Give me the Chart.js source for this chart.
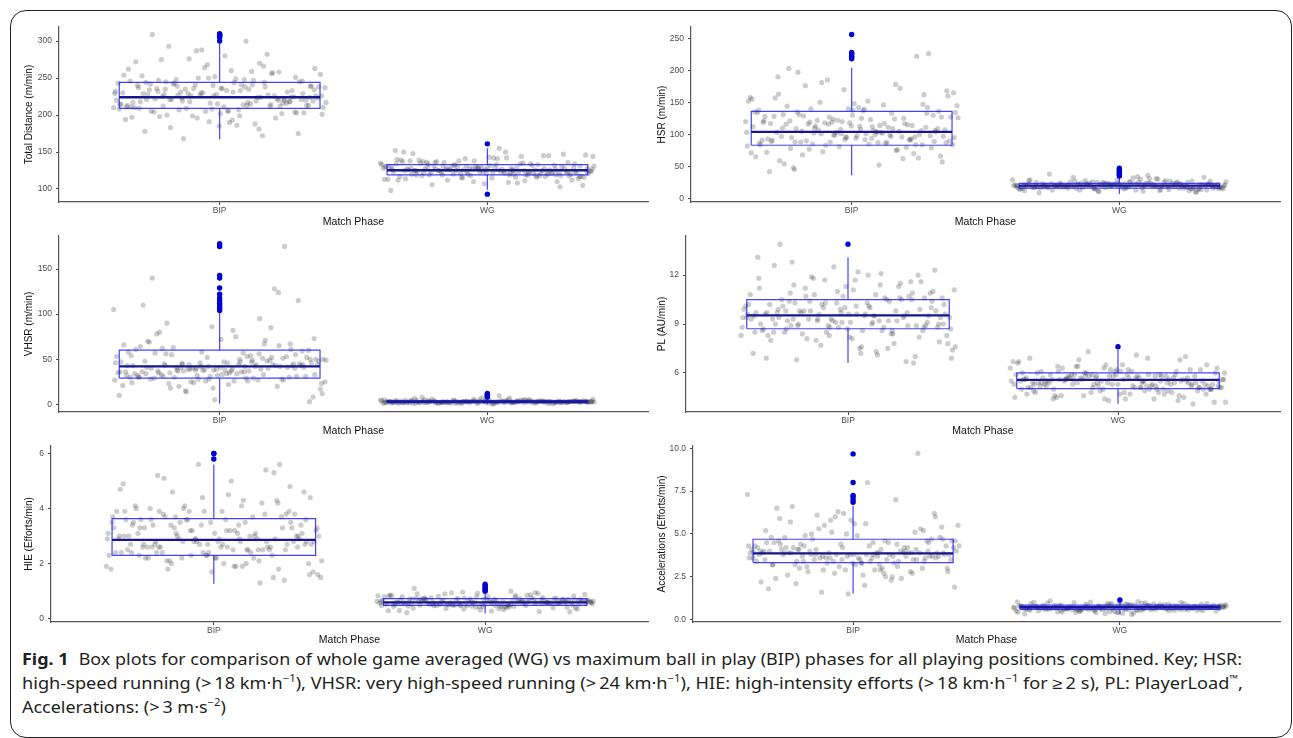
<!DOCTYPE html>
<html>
<head>
<meta charset="utf-8">
<script src="https://cdn.jsdelivr.net/npm/chart.js@4.4.0/dist/chart.umd.min.js"></script>
<style>
  body { margin: 0; background: #fff; width: 1293px; height: 738px; overflow: hidden; position: relative; }
  .frame { position: absolute; left: 10px; top: 10px; width: 1282px; height: 728px; border: 1.3px solid #222; border-radius: 16px; box-sizing: border-box; }
  canvas { position: absolute; }
  .cap { position: absolute; left: 22px; font-family: "Noto Sans", sans-serif; font-size: 16px; line-height: 24px; color: #231f20; white-space: nowrap; transform-origin: 0 0; }
  .cap sup { font-size: 10px; line-height: 0; vertical-align: 0; position: relative; top: -7px; }
</style>
</head>
<body>
<div class="frame"></div>
<canvas id="c0" width="635" height="211" style="left:17px;top:17px"></canvas>
<canvas id="c1" width="634" height="211" style="left:650px;top:17px"></canvas>
<canvas id="c2" width="635" height="211" style="left:17px;top:226px"></canvas>
<canvas id="c3" width="634" height="211" style="left:650px;top:226px"></canvas>
<canvas id="c4" width="635" height="210" style="left:17px;top:436px"></canvas>
<canvas id="c5" width="634" height="210" style="left:650px;top:436px"></canvas>

<div class="cap" id="l1" style="top:647px"><b>Fig. 1</b><span style="display:inline-block;width:9px"></span>Box plots for comparison of whole game averaged (WG) vs maximum ball in play (BIP) phases for all playing positions combined. Key; HSR:</div>
<div class="cap" id="l2" style="top:671px">high-speed running (&gt;&#8201;18 km·h<sup>−1</sup>), VHSR: very high-speed running (&gt;&#8201;24 km·h<sup>−1</sup>), HIE: high-intensity efforts (&gt;&#8201;18 km·h<sup>−1</sup> for ≥&#8201;2 s), PL: PlayerLoad<sup>™</sup>,</div>
<div class="cap" id="l3" style="top:695px">Accelerations: (&gt;&#8201;3 m·s<sup>−2</sup>)</div>

<script>
const phases = ["BIP", "WG"];
const metrics = ["Total Distance (m/min)", "HSR (m/min)", "VHSR (m/min)", "PL (AU/min)", "HIE (Efforts/min)", "Accelerations (Efforts/min)"];

const tdBip = [238, 212, 251, 226, 197, 244, 219, 263, 231, 205, 222, 288, 215, 241, 183, 229, 236, 209, 256, 218, 201, 233, 247, 224, 191, 213, 270, 227, 239, 206, 221, 258, 196, 232, 217, 245, 175, 228, 210, 282, 235, 223, 249, 204, 216, 264, 230, 188, 242, 220, 211, 253, 226, 199, 237, 214, 275, 225, 208, 246, 172, 231, 219, 260, 234, 202, 227, 243, 215, 293, 221, 185, 240, 212, 229, 255, 207, 236, 218, 268, 194, 224, 248, 213, 233, 178, 222, 241, 210, 300, 228, 203, 252, 217, 238, 168, 226, 244, 309, 220,
  230, 214, 247, 221, 203, 236, 218, 257, 226, 210, 241, 198, 233, 216, 262, 224, 207, 239, 190, 228, 212, 250, 220, 235, 200, 245, 215, 272, 227, 209, 238, 186, 222, 231, 205, 254, 219, 243, 213, 280, 229, 196, 236, 217, 248, 225, 204, 240, 211, 266, 223, 234, 193, 242, 216, 230, 208, 259, 221, 246, 202, 237, 214, 276, 226, 199, 232, 218, 250, 211, 181, 239, 224, 205, 244, 220, 287, 229, 213, 235];
const tdWg = [127, 121, 134, 118, 129, 140, 124, 112, 131, 126, 119, 145, 123, 130, 108, 127, 136, 121, 125, 116, 133, 128, 150, 122, 119, 138, 126, 111, 131, 124, 142, 120, 128, 115, 135, 125, 122, 147, 129, 117, 132, 126, 105, 123, 139, 121, 128, 113, 134, 125, 120, 143, 127, 118, 130, 124, 109, 136, 122, 129, 152, 119, 126, 114, 133, 125, 121, 141, 128, 116, 131, 123, 107, 137, 126, 120, 146, 124, 118, 132, 127, 98, 135, 122, 129, 115, 138, 125, 121, 144, 128, 119, 130, 123, 112, 134, 126, 117, 155, 124,
  126, 120, 131, 123, 137, 118, 128, 114, 133, 125, 121, 142, 127, 110, 130, 124, 119, 136, 122, 129, 148, 117, 126, 133, 120, 106, 128, 124, 139, 121, 131, 116, 127, 135, 123, 118, 129, 144, 125, 112, 132, 126, 121, 138, 124, 119, 130, 103, 127, 134, 122, 128, 117, 141, 125, 120, 131, 113, 129, 136, 123, 126, 150, 118, 132, 124, 121, 137, 127, 110, 130, 125, 119, 134, 122, 128, 145, 116, 131, 126];
const hsrBip = [104, 88, 142, 96, 121, 75, 110, 168, 92, 131, 84, 99, 155, 117, 68, 106, 138, 89, 125, 181, 95, 112, 78, 147, 101, 86, 133, 119, 57, 108, 163, 93, 127, 82, 114, 197, 98, 140, 72, 105, 122, 90, 152, 116, 63, 103, 135, 87, 176, 109, 94, 128, 80, 118, 145, 100, 48, 111, 170, 91, 124, 85, 107, 137, 97, 70, 119, 158, 102, 88, 130, 113, 42, 96, 150, 84, 123, 203, 106, 81, 134, 99, 116, 66, 142, 103, 92, 185, 120, 87, 109, 226, 95, 128, 76, 113, 160, 101, 54, 222,
  99, 112, 86, 129, 104, 148, 91, 117, 73, 134, 106, 95, 162, 120, 84, 109, 140, 97, 125, 59, 114, 88, 152, 103, 131, 79, 118, 93, 172, 107, 127, 85, 144, 100, 122, 65, 111, 90, 136, 98, 157, 115, 83, 126, 104, 45, 133, 92, 119, 178, 102, 87, 139, 110, 96, 124, 71, 146, 105, 89, 130, 117, 62, 101, 165, 94, 121, 84, 108, 138, 97, 77, 127, 113, 190, 91, 116, 103, 52, 135];
const hsrWg = [20, 17, 24, 15, 22, 28, 19, 13, 21, 26, 18, 23, 11, 20, 31, 16, 22, 19, 25, 14, 21, 18, 34, 20, 17, 23, 12, 19, 27, 22, 16, 20, 24, 15, 29, 21, 18, 10, 22, 19, 25, 17, 20, 32, 23, 16, 21, 14, 19, 26, 22, 18, 9, 20, 24, 17, 30, 21, 15, 23, 19, 12, 22, 27, 18, 20, 16, 25, 21, 36, 19, 14, 23, 17, 20, 28, 22, 13, 21, 18, 24, 16, 19, 33, 20, 15, 23, 18, 26, 21, 11, 22, 17, 20, 29, 19, 24, 16, 21, 38,
  19, 22, 16, 24, 20, 14, 23, 18, 27, 21, 17, 25, 19, 12, 22, 20, 30, 16, 23, 18, 21, 26, 15, 20, 24, 19, 10, 22, 17, 28, 21, 18, 23, 13, 20, 25, 16, 22, 19, 33, 21, 17, 24, 20, 15, 22, 18, 27, 19, 23, 14, 21, 20, 26, 17, 22, 11, 19, 24, 21, 16, 29, 20, 18, 23, 15, 22, 19, 25, 17, 21, 31, 20, 13, 23, 18, 22, 16, 26, 20];
const vhsrBip = [42, 31, 55, 38, 24, 67, 45, 33, 82, 40, 27, 58, 36, 49, 18, 44, 72, 30, 52, 39, 12, 47, 35, 61, 28, 43, 95, 37, 50, 22, 41, 65, 32, 46, 26, 56, 115, 39, 34, 48, 15, 44, 75, 29, 53, 38, 21, 42, 63, 31, 47, 36, 128, 40, 25, 57, 33, 45, 86, 30, 51, 41, 8, 37, 69, 28, 46, 35, 54, 23, 43, 143, 32, 49, 39, 17, 44, 78, 30, 52, 36, 27, 41, 60, 34, 48, 20, 38, 105, 29, 45, 31, 5, 43, 71, 37, 50, 26, 140, 175,
  38, 47, 29, 55, 41, 33, 64, 44, 25, 50, 36, 80, 43, 31, 58, 39, 20, 46, 35, 70, 42, 28, 53, 37, 90, 45, 32, 61, 40, 14, 48, 34, 57, 41, 26, 66, 44, 30, 52, 38, 110, 43, 24, 49, 36, 62, 40, 18, 54, 33, 45, 73, 39, 28, 51, 42, 10, 47, 35, 59, 41, 30, 85, 44, 23, 50, 37, 67, 42, 32, 56, 38, 3, 46, 34, 124, 40, 27, 53, 43];
const vhsrWg = [3, 2.2, 4.1, 1.5, 3.4, 2.8, 5.2, 1.9, 3.1, 2.5, 4.5, 0.8, 3.3, 2.1, 3.8, 1.6, 2.9, 6.1, 2.4, 3.6, 1.2, 3.0, 4.3, 2.0, 2.7, 3.5, 1.7, 5.6, 2.6, 3.2, 0.5, 3.9, 2.3, 2.9, 4.8, 1.8, 3.1, 2.5, 7.2, 2.1, 3.4, 1.4, 2.8, 4.0, 2.2, 3.3, 1.9, 3.7, 2.6, 0.9, 3.0, 4.6, 2.4, 3.2, 1.6, 2.7, 5.0, 2.0, 3.5, 1.3, 2.9, 4.2, 2.3, 3.1, 1.8, 6.5, 2.6, 3.6, 1.1, 2.8, 3.9, 2.1, 3.3, 1.5, 2.5, 4.4, 3.0, 2.2, 8.1, 1.7, 3.4, 2.7, 4.1, 2.0, 3.2, 0.7, 2.9, 3.8, 2.4, 5.4, 1.9, 3.0, 2.6, 4.7, 1.4, 3.5, 2.3, 3.1, 9.5, 2.8,
  2.8, 3.3, 2.1, 3.9, 2.5, 3.1, 1.6, 4.4, 2.9, 3.5, 2.2, 3.0, 5.1, 2.6, 3.7, 1.9, 3.2, 2.4, 4.2, 2.7, 1.3, 3.4, 2.9, 3.8, 2.0, 5.8, 3.1, 2.5, 3.6, 1.7, 2.8, 4.0, 3.3, 2.3, 0.6, 3.0, 2.7, 4.6, 2.1, 3.5, 2.9, 1.5, 3.8, 2.6, 3.2, 6.8, 2.4, 3.1, 1.8, 4.3, 2.8, 3.4, 2.2, 3.0, 1.1, 3.7, 2.6, 4.9, 2.9, 3.3, 2.0, 3.6, 2.5, 1.4, 4.1, 3.0, 2.7, 3.9, 2.3, 5.5, 3.2, 1.9, 2.8, 3.5, 2.4, 4.5, 3.1, 0.9, 2.6, 3.4];
const plBip = [9.5, 8.9, 10.6, 9.1, 11.2, 8.4, 9.8, 10.2, 7.6, 9.4, 10.9, 8.8, 9.6, 12.1, 9.0, 10.4, 8.2, 9.7, 11.5, 9.3, 6.9, 10.1, 8.7, 9.9, 11.0, 8.5, 9.2, 10.7, 7.9, 9.6, 12.6, 8.9, 10.3, 9.4, 7.3, 11.4, 9.1, 10.0, 8.6, 9.8, 11.8, 8.3, 9.5, 10.5, 7.0, 9.2, 10.8, 8.8, 9.7, 12.3, 8.1, 10.2, 9.4, 7.7, 11.1, 9.0, 10.4, 8.6, 9.9, 13.1, 8.4, 9.3, 10.6, 7.5, 9.7, 11.6, 8.9, 10.1, 9.2, 6.8, 10.9, 8.7, 9.6, 11.3, 8.0, 9.4, 10.3, 8.5, 12.0, 9.1, 7.2, 10.5, 9.8, 8.8, 11.7, 9.3, 6.7, 10.0, 8.3, 9.5, 12.8, 8.9, 10.7, 9.0, 7.8, 11.9, 9.6, 8.6, 13.9, 6.6,
  9.3, 10.2, 8.6, 9.8, 11.0, 9.1, 8.3, 10.5, 9.6, 7.4, 10.0, 9.2, 11.6, 8.8, 9.7, 10.4, 8.1, 9.4, 12.2, 9.0, 10.7, 8.5, 9.9, 7.1, 10.3, 9.5, 11.3, 8.7, 9.2, 10.8, 7.8, 9.6, 10.1, 8.9, 12.5, 9.3, 10.6, 8.4, 9.8, 11.1, 8.0, 9.5, 10.2, 7.6, 9.1, 10.9, 8.8, 9.7, 11.8, 8.6, 10.4, 9.0, 7.2, 9.9, 10.5, 8.3, 9.4, 11.4, 8.9, 10.0, 9.6, 6.9, 10.6, 9.2, 8.7, 12.0, 9.8, 8.2, 10.3, 9.5, 7.5, 11.2, 9.0, 10.1, 8.5, 9.7, 11.7, 8.8, 10.8, 9.3];
const plWg = [5.6, 5.1, 6.1, 5.3, 5.8, 4.7, 5.5, 6.4, 5.0, 5.7, 5.2, 6.8, 5.4, 4.5, 5.9, 5.6, 5.1, 6.2, 5.3, 4.9, 5.8, 5.5, 7.1, 5.0, 5.7, 4.4, 6.0, 5.2, 5.6, 6.5, 4.8, 5.4, 5.9, 5.1, 6.3, 5.5, 4.6, 5.8, 5.3, 6.9, 5.0, 5.7, 4.2, 6.1, 5.4, 5.6, 4.9, 6.6, 5.2, 5.8, 5.5, 4.7, 6.0, 5.3, 7.3, 5.1, 5.7, 4.5, 6.2, 5.4, 5.6, 4.8, 6.4, 5.0, 5.9, 5.3, 4.3, 5.7, 6.7, 5.2, 5.5, 4.9, 6.1, 5.4, 5.8, 4.6, 6.3, 5.1, 5.6, 7.0, 5.0, 5.5, 4.4, 5.9, 5.3, 6.5, 5.2, 5.7, 4.8, 6.0, 5.4, 5.6, 4.1, 6.2, 5.1, 5.8, 6.8, 5.3, 4.7, 5.5,
  5.5, 5.2, 5.9, 5.0, 5.7, 6.2, 5.3, 4.8, 5.6, 6.0, 5.1, 5.8, 4.6, 5.4, 6.5, 5.6, 5.0, 5.9, 5.2, 4.4, 5.7, 6.1, 5.3, 5.5, 4.9, 6.3, 5.4, 5.8, 5.1, 4.7, 5.6, 6.0, 5.2, 5.9, 4.5, 5.5, 6.7, 5.3, 5.7, 5.0, 6.1, 5.4, 4.8, 5.8, 5.6, 5.1, 6.4, 5.2, 4.3, 5.7, 5.9, 5.4, 5.0, 6.2, 5.5, 4.6, 5.8, 5.3, 6.9, 5.6, 5.1, 5.9, 4.9, 5.4, 6.0, 5.2, 5.7, 4.4, 5.5, 6.3, 5.0, 5.8, 5.3, 4.7, 5.6, 6.1, 5.4, 5.9, 4.2, 5.5];
const hieBip = [2.9, 2.4, 3.5, 2.7, 3.9, 2.1, 3.1, 4.4, 2.6, 3.3, 1.8, 2.9, 3.7, 2.5, 5.1, 3.0, 2.2, 3.4, 2.8, 4.0, 1.6, 3.2, 2.6, 3.8, 2.4, 4.7, 3.0, 2.0, 3.6, 2.7, 3.3, 5.3, 2.3, 3.1, 1.9, 3.9, 2.8, 3.5, 2.5, 4.2, 2.9, 1.7, 3.2, 2.6, 3.7, 5.6, 2.4, 3.0, 2.1, 3.4, 2.8, 4.1, 2.5, 3.6, 1.5, 3.1, 2.7, 3.9, 2.3, 4.9, 2.9, 3.3, 2.0, 3.6, 2.6, 4.3, 2.8, 1.8, 3.5, 2.4, 3.0, 5.8, 2.7, 3.8, 2.2, 3.2, 2.5, 4.0, 1.4, 3.4, 2.9, 3.7, 2.1, 4.6, 2.6, 3.1, 2.3, 3.9, 1.9, 2.8, 5.2, 3.3, 2.4, 3.6, 1.3, 3.0, 2.7, 4.5, 2.2, 5.6,
  2.8, 3.3, 2.5, 3.7, 2.9, 2.2, 3.5, 2.6, 4.1, 3.0, 1.9, 3.4, 2.7, 3.9, 2.4, 3.1, 4.6, 2.8, 2.0, 3.6, 2.9, 3.2, 2.3, 4.3, 2.6, 3.8, 1.7, 3.0, 2.5, 3.5, 2.8, 5.0, 2.2, 3.3, 2.7, 3.9, 2.4, 1.8, 3.1, 2.9, 4.0, 2.6, 3.6, 2.1, 3.4, 2.8, 4.8, 2.3, 3.0, 2.5, 3.7, 1.6, 3.2, 2.7, 4.2, 2.9, 3.5, 2.0, 3.8, 2.6, 3.1, 2.4, 5.4, 2.8, 3.3, 1.9, 3.6, 2.5, 4.4, 3.0, 2.2, 3.4, 2.7, 3.9, 2.3, 1.5, 3.2, 2.9, 4.1, 2.6];
const hieWg = [0.6, 0.5, 0.7, 0.55, 0.8, 0.45, 0.62, 0.9, 0.52, 0.66, 0.38, 0.58, 0.75, 0.48, 0.85, 0.6, 0.42, 0.7, 0.56, 0.95, 0.5, 0.64, 0.33, 0.72, 0.57, 0.46, 0.82, 0.61, 0.53, 0.68, 0.28, 0.59, 0.77, 0.49, 0.63, 1.0, 0.54, 0.7, 0.44, 0.6, 0.87, 0.51, 0.65, 0.36, 0.74, 0.57, 0.47, 0.8, 0.62, 0.55, 0.25, 0.69, 0.58, 0.92, 0.5, 0.64, 0.41, 0.73, 0.56, 0.6, 0.84, 0.48, 0.67, 0.35, 0.71, 0.53, 0.62, 0.97, 0.57, 0.45, 0.76, 0.6, 0.52, 0.3, 0.68, 0.58, 0.88, 0.49, 0.63, 0.4, 0.72, 0.55, 0.61, 0.81, 0.5, 0.66, 0.22, 0.59, 0.74, 0.54, 0.43, 0.69, 0.6, 0.93, 0.51, 0.64, 0.37, 0.7, 0.57, 1.1,
  0.58, 0.52, 0.66, 0.61, 0.47, 0.71, 0.55, 0.79, 0.6, 0.5, 0.68, 0.43, 0.63, 0.74, 0.57, 0.86, 0.53, 0.65, 0.39, 0.6, 0.72, 0.56, 0.49, 0.83, 0.62, 0.54, 0.7, 0.32, 0.59, 0.76, 0.51, 0.64, 0.45, 0.9, 0.58, 0.67, 0.53, 0.73, 0.48, 0.61, 0.8, 0.56, 0.26, 0.69, 0.6, 0.5, 0.75, 0.63, 0.42, 0.57, 0.85, 0.54, 0.66, 0.47, 0.71, 0.59, 0.35, 0.64, 0.78, 0.52, 0.61, 0.44, 0.68, 0.57, 0.94, 0.55, 0.62, 0.49, 0.73, 0.6, 0.29, 0.66, 0.53, 0.82, 0.58, 0.46, 0.7, 0.56, 0.64, 0.51];
const accBip = [3.9, 3.4, 4.5, 3.7, 5.2, 3.1, 4.1, 2.8, 3.8, 4.8, 3.5, 6.0, 3.9, 2.5, 4.3, 3.6, 5.6, 3.2, 4.0, 2.9, 4.6, 3.8, 6.6, 3.4, 4.2, 2.2, 3.7, 5.0, 3.9, 3.3, 4.4, 2.7, 5.8, 3.6, 4.1, 3.0, 4.7, 3.8, 1.8, 4.0, 5.3, 3.5, 4.3, 2.6, 3.9, 6.3, 3.4, 4.5, 3.1, 3.7, 4.9, 2.4, 4.2, 3.6, 5.5, 3.9, 3.2, 4.6, 2.9, 4.0, 7.0, 3.5, 4.3, 2.0, 3.8, 5.1, 3.4, 4.1, 2.7, 3.7, 6.2, 3.3, 4.8, 3.9, 1.6, 4.2, 3.6, 5.7, 3.0, 4.4, 3.8, 2.3, 4.0, 5.4, 3.5, 4.6, 2.8, 3.9, 7.3, 3.2, 4.1, 3.7, 1.5, 4.5, 3.4, 6.1, 3.8, 8.0, 4.2, 9.7,
  3.8, 4.3, 3.5, 4.9, 3.9, 3.2, 4.5, 3.7, 5.5, 4.0, 2.9, 4.2, 3.6, 6.2, 3.9, 3.3, 4.7, 3.8, 2.6, 4.1, 3.5, 5.1, 3.9, 3.0, 4.4, 3.7, 5.8, 4.0, 2.4, 3.6, 4.6, 3.4, 3.9, 5.3, 3.1, 4.2, 3.8, 2.8, 4.8, 3.6, 6.5, 3.9, 3.3, 4.3, 3.7, 2.1, 4.0, 5.0, 3.5, 4.4, 3.8, 3.0, 5.6, 3.9, 4.1, 2.7, 3.6, 4.6, 3.4, 6.0, 3.8, 3.2, 4.2, 3.7, 1.9, 4.5, 3.9, 5.2, 3.5, 4.0, 2.5, 3.8, 4.7, 3.3, 5.9, 3.9, 3.6, 4.3, 2.9, 4.1];
const accWg = [0.72, 0.6, 0.85, 0.66, 0.95, 0.55, 0.78, 0.5, 0.7, 0.88, 0.62, 1.0, 0.74, 0.45, 0.81, 0.68, 0.58, 0.9, 0.73, 0.52, 0.79, 0.65, 1.05, 0.7, 0.56, 0.84, 0.61, 0.76, 0.42, 0.69, 0.92, 0.64, 0.8, 0.57, 0.72, 0.98, 0.6, 0.77, 0.48, 0.71, 0.87, 0.63, 0.75, 0.38, 0.68, 0.93, 0.59, 0.82, 0.66, 0.73, 0.53, 0.86, 0.7, 0.62, 1.02, 0.77, 0.55, 0.8, 0.67, 0.47, 0.74, 0.89, 0.61, 0.71, 0.58, 0.96, 0.69, 0.76, 0.5, 0.83, 0.65, 0.72, 0.4, 0.79, 0.63, 0.91, 0.7, 0.57, 0.85, 0.68, 0.35, 0.74, 0.6, 0.99, 0.73, 0.64, 0.81, 0.54, 0.7, 0.88, 0.66, 0.44, 0.78, 0.62, 0.94, 0.71, 0.59, 0.83, 0.3, 1.1,
  0.7, 0.63, 0.8, 0.58, 0.74, 0.9, 0.67, 0.52, 0.77, 0.61, 0.85, 0.69, 0.46, 0.73, 0.95, 0.64, 0.79, 0.56, 0.71, 0.88, 0.6, 0.75, 0.41, 0.68, 0.82, 0.65, 0.54, 0.76, 1.0, 0.62, 0.72, 0.5, 0.84, 0.67, 0.59, 0.78, 0.7, 0.92, 0.57, 0.74, 0.37, 0.66, 0.81, 0.63, 0.73, 0.97, 0.55, 0.69, 0.86, 0.61, 0.76, 0.48, 0.71, 0.83, 0.64, 0.58, 0.79, 1.04, 0.68, 0.6, 0.75, 0.44, 0.72, 0.89, 0.65, 0.77, 0.53, 0.7, 0.82, 0.62, 0.33, 0.74, 0.67, 0.93, 0.59, 0.78, 0.69, 0.51, 0.8, 0.66];

// box plot summaries, one pair [BIP, WG] per metric
const q1 = [[209, 119], [83, 16], [29, 1.8], [8.71, 5.04], [2.3, 0.48], [3.33, 0.6]];
const median = [[224, 125.3], [104, 20], [42, 3], [9.53, 5.57], [2.86, 0.59], [3.87, 0.72]];
const q3 = [[244, 132.8], [136, 23.5], [60, 4], [10.49, 6.0], [3.63, 0.73], [4.69, 0.85]];
const whiskerLo = [[167, 99], [36, 7], [1, 0], [6.6, 4.1], [1.27, 0.2], [1.51, 0.3]];
const whiskerHi = [[297, 155], [204, 34], [103, 7], [13.1, 7.4], [5.6, 0.95], [6.65, 1.05]];

// outliers
const tdOut = [[300, 305, 307, 308, 309, 310], [161, 93]];
const hsrOut = [[218, 220, 222, 224, 226, 228, 256], [35, 37, 39, 41, 43, 45, 47]];
const vhsrOut = [[104, 106, 108, 110, 112, 115, 118, 122, 129, 140, 143, 175, 178], [8, 9, 10, 11, 12]];
const plOut = [[13.9], [7.6]];
const hieOut = [[5.8, 6.0, 6.0], [1.0, 1.05, 1.1, 1.15, 1.2, 1.25]];
const accOut = [[6.85, 7.0, 7.15, 7.25, 8.0, 9.67], [1.15]];

// axes
const yTicks = [[100, 150, 200, 250, 300], [0, 50, 100, 150, 200, 250], [0, 50, 100, 150], [6, 9, 12], [0, 2, 4, 6], [0, 2.5, 5, 7.5, 10]];
const yMin = [82.4, -5.6, -8.5, 3.6, -0.12, -0.14];
const yMax = [319, 267.7, 186.6, 14.4, 6.27, 10.13];

const obs = [[tdBip, tdWg], [hsrBip, hsrWg], [vhsrBip, vhsrWg], [plBip, plWg], [hieBip, hieWg], [accBip, accWg]];
const outliers = [tdOut, hsrOut, vhsrOut, plOut, hieOut, accOut];

// panel geometry: y-axis width, x-axis height
const panelAxis = [[42, 26], [41, 26], [42, 25], [36, 25], [34, 24], [43, 24]];

const FONT = "'Liberation Sans', Arial, sans-serif";
const BOX = "rgba(20,20,255,0.8)";
const MED = "#16168f";

// deterministic horizontal spread for the jittered points
function jitterX(i, g) {
  const f = ((i + 1) * 0.6180339887 + g * 0.37) % 1;
  return g + 1 + (f - 0.5) * 0.8;
}

function line(pts, color, width) {
  return { data: pts, showLine: true, borderColor: color, borderWidth: width, pointRadius: 0, fill: false, tension: 0, order: 1, clip: false };
}

function buildDatasets(k) {
  const sets = [];
  for (let g = 0; g < 2; g++) {
    const x = g + 1, hw = 0.375;
    const a = q1[k][g], m = median[k][g], b = q3[k][g];
    sets.push({
      data: outliers[k][g].map(v => ({ x: x, y: v })),
      pointRadius: 2.7, backgroundColor: "#0000d0", borderWidth: 0, showLine: false, order: 0, clip: false
    });
    sets.push(line([{ x: x - hw, y: m }, { x: x + hw, y: m }], MED, 2.3));
    sets.push(line([{ x: x - hw, y: a }, { x: x + hw, y: a }, { x: x + hw, y: b }, { x: x - hw, y: b }, { x: x - hw, y: a }], BOX, 1.2));
    sets.push(line([{ x: x, y: b }, { x: x, y: whiskerHi[k][g] }], BOX, 1.2));
    sets.push(line([{ x: x, y: a }, { x: x, y: whiskerLo[k][g] }], BOX, 1.2));
    sets.push({
      data: obs[k][g].map((v, i) => ({ x: jitterX(i, g), y: v })),
      pointRadius: 2.6, backgroundColor: "rgba(0,0,0,0.2)", borderWidth: 0, showLine: false, order: 2, clip: false
    });
  }
  return sets;
}

for (let k = 0; k < 6; k++) {
  const yW = panelAxis[k][0], xH = panelAxis[k][1];
  new Chart(document.getElementById("c" + k), {
    type: "scatter",
    data: { datasets: buildDatasets(k) },
    options: {
      responsive: false,
      animation: false,
      devicePixelRatio: 1,
      layout: { padding: { top: 10, right: 4, left: 0, bottom: 0 } },
      plugins: { legend: { display: false }, tooltip: { enabled: false } },
      scales: {
        x: {
          type: "linear", min: 0.4, max: 2.6,
          afterBuildTicks: s => { s.ticks = [{ value: 1 }, { value: 2 }]; },
          afterFit: s => { s.height = xH; },
          ticks: { callback: v => (v === 1 ? phases[0] : phases[1]), font: { size: 8.5, family: FONT }, color: "#4d4d4d", padding: 1, maxRotation: 0, autoSkip: false },
          grid: { display: true, drawOnChartArea: false, drawTicks: true, tickLength: 3, color: "#444" },
          border: { display: true, color: "#555", width: 1.2 },
          title: { display: true, text: "Match Phase", font: { size: 10.5, family: FONT }, color: "#111", padding: { top: 0, bottom: 0 } }
        },
        y: {
          type: "linear", min: yMin[k], max: yMax[k],
          afterBuildTicks: s => { s.ticks = yTicks[k].map(v => ({ value: v })); },
          afterFit: s => { s.width = yW; },
          ticks: { callback: v => (k === 5 ? v.toFixed(1) : String(v)), font: { size: 8.5, family: FONT }, color: "#4d4d4d", padding: 4 },
          grid: { display: true, drawOnChartArea: false, drawTicks: true, tickLength: 3, color: "#444" },
          border: { display: true, color: "#555", width: 1.2 },
          title: { display: true, text: metrics[k], font: { size: 10, family: FONT }, color: "#111", padding: { top: 6, bottom: 0 } }
        }
      }
    }
  });
}

// fit caption lines to the measured widths of the figure
const s1 = 1220 / document.getElementById("l1").getBoundingClientRect().width;
const s2 = 1221 / document.getElementById("l2").getBoundingClientRect().width;
document.getElementById("l1").style.transform = "scaleX(" + s1 + ")";
document.getElementById("l2").style.transform = "scaleX(" + s2 + ")";
document.getElementById("l3").style.transform = "scaleX(" + s1 + ")";
</script>
</body>
</html>
